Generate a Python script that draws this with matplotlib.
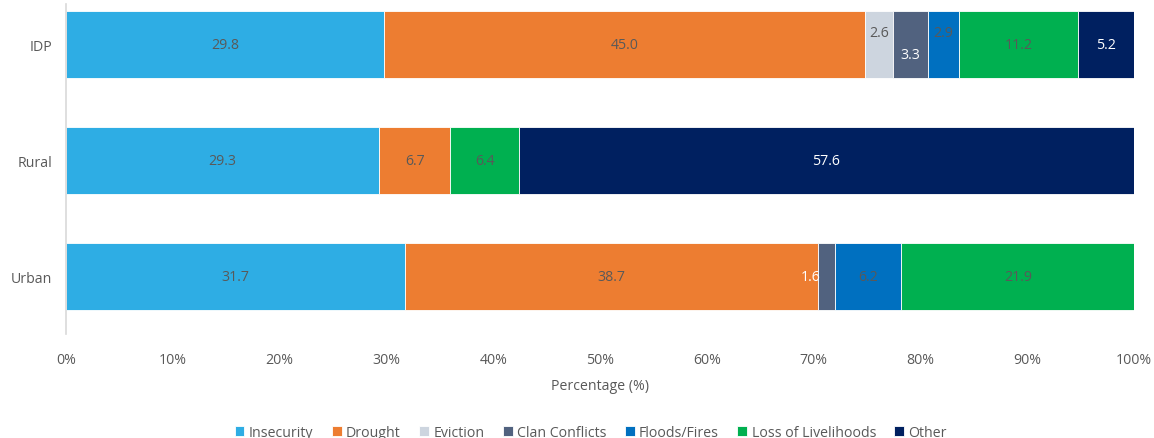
import matplotlib as mpl
import matplotlib.pyplot as plt
import numpy as np

mpl.rcParams['font.family'] = 'Open Sans'

# ------- DATA ------- #
groups = ['IDP', 'Rural', 'Urban']
causes = ['Insecurity', 'Drought', 'Eviction', 'Clan Conflicts',
          'Floods/Fires', 'Loss of Livelihoods', 'Other']

insecurity = [29.8, 29.3, 31.7]
drought = [45.0, 6.7, 38.7]
eviction = [2.6, 0.0, 0.0]
clan_conflicts = [3.3, 0.0, 1.6]
floods_fires = [2.9, 0.0, 6.2]
loss_livelihoods = [11.2, 6.4, 21.9]
other = [5.2, 57.6, 0.0]

series = [insecurity, drought, eviction, clan_conflicts,
          floods_fires, loss_livelihoods, other]
colors = ['#2EADE4', '#ED7D31', '#CDD5DF', '#51627F',
          '#0070C0', '#00B050', '#002060']

text_grey = '#595959'
fs = 10.2
white_labels = {(0, 3), (0, 6), (1, 6), (2, 3)}
# label nudges in pixels for the narrow segments
nudges = {(0, 2): (0, 12), (0, 3): (0, -10), (0, 4): (0, 12), (2, 3): (-16, 0)}

# ------- PLOT ------- #
fig = plt.figure(figsize=(11.54, 4.39), dpi=100)
ax = fig.add_axes([66/1154, 104/439, 1068/1154, 330/439])

y = np.arange(len(groups))
left = np.zeros(len(groups))
for s_idx, (vals, col, name) in enumerate(zip(series, colors, causes)):
    vals = np.array(vals)
    ax.barh(y, vals, left=left, height=0.58, color=col,
            edgecolor='white', lw=0.6, label=name)
    for g_idx, v in enumerate(vals):
        if v <= 0:
            continue
        dx, dy = nudges.get((g_idx, s_idx), (0, 0))
        tc = 'white' if (g_idx, s_idx) in white_labels else text_grey
        ax.annotate(f'{v:.1f}', (left[g_idx] + v / 2, y[g_idx]),
                    xytext=(dx, dy), textcoords='offset pixels',
                    ha='center', va='center', fontsize=fs, color=tc)
    left += vals

ax.set_xlim(0, 100)
ax.set_ylim(2.5, -0.35)
ax.set_yticks(y)
ax.set_yticklabels(groups)
ax.set_xticks(np.arange(0, 101, 10))
ax.set_xticklabels([f'{t}%' for t in range(0, 101, 10)])

# spines and ticks
for spine in ['top', 'right', 'bottom']:
    ax.spines[spine].set_visible(False)
ax.spines['left'].set_color('#D9D9D9')
ax.spines['left'].set_linewidth(1.2)
ax.tick_params(axis='both', length=0, labelsize=fs, labelcolor=text_grey)
ax.tick_params(axis='x', pad=13)
ax.tick_params(axis='y', pad=10)

ax.set_xlabel('Percentage (%)', fontsize=fs, color=text_grey, labelpad=8)

# legend
fig.legend(loc='center', bbox_to_anchor=(0.512, 0.012), ncol=7,
           frameon=False, fontsize=fs, handlelength=0.7, handleheight=0.7,
           handletextpad=0.3, columnspacing=1.3, labelcolor=text_grey)

plt.savefig('out.png', dpi=100)
